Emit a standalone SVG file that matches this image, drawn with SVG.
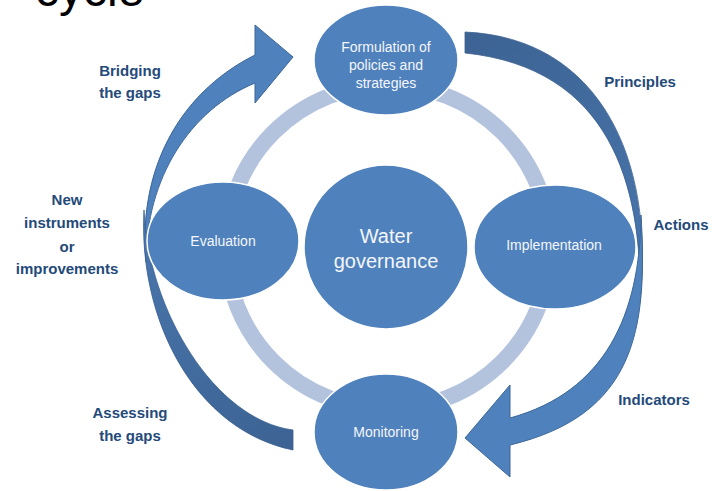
<svg xmlns="http://www.w3.org/2000/svg" width="712" height="491" viewBox="0 0 712 491">
  <defs>
    <linearGradient id="gradPrinciples" gradientUnits="userSpaceOnUse" x1="465" y1="40" x2="640" y2="300">
      <stop offset="0" stop-color="#3C6393"/>
      <stop offset="1" stop-color="#4A77AE"/>
    </linearGradient>
    <linearGradient id="gradAssessing" gradientUnits="userSpaceOnUse" x1="144" y1="210" x2="293" y2="440">
      <stop offset="0" stop-color="#4A77AE"/>
      <stop offset="1" stop-color="#3C6393"/>
    </linearGradient>
    <style>
      .ring { fill: none; stroke: #B3C3DE; stroke-width: 16; }
      .node { fill: #4F81BD; stroke: #FFFFFF; stroke-width: 1.5; }
      .node-text { font-family: "Liberation Sans", Arial, sans-serif; font-size: 14px; fill: #F4F6FA; text-anchor: middle; }
      .hub-text { font-family: "Liberation Sans", Arial, sans-serif; font-size: 20px; fill: #F4F6FA; text-anchor: middle; }
      .arrow-light { fill: #4F81BD; stroke: #3B6799; stroke-width: 1; stroke-linejoin: miter; }
      .label { font-family: "Liberation Sans", Arial, sans-serif; font-size: 15px; font-weight: bold; fill: #244A7A; text-anchor: middle; }
      .title { font-family: "Liberation Sans", Arial, sans-serif; font-size: 48px; fill: #000000; }
    </style>
  </defs>

  <rect width="712" height="491" fill="#FFFFFF"/>

  <!-- heading, mostly above the visible area -->
  <text class="title" x="35" y="6">cycle</text>

  <!-- connectors: inner ring and the four outer arcs -->
  <g id="connectors">
    <circle class="ring" cx="388" cy="247" r="162"/>

    <!-- Bridging the gaps: arrow sweeping up to the top node -->
    <path id="arc-bridging" class="arrow-light"
          d="M146,262 C138,175 175,95 255,55 L255,25 L293,57 L255,103 L255,83 C190,110 146,178 146,262 Z"/>

    <!-- Principles: tapering band from the top node down the right side -->
    <path id="arc-principles" fill="url(#gradPrinciples)" stroke="#3A6090" stroke-width="0.8"
          d="M465,32 C600,38 655,160 640,300 C642,185 610,68 465,53 Z"/>

    <!-- Indicators: arrow sweeping down to the bottom node -->
    <path id="arc-indicators" class="arrow-light"
          d="M641,215 C648,330 635,415 510,445 L510,477 L465,438 L510,385 L510,418 C605,392 640,315 641,215 Z"/>

    <!-- Assessing the gaps: tapering band from the left side to the bottom -->
    <path id="arc-assessing" fill="url(#gradAssessing)" stroke="#3A6090" stroke-width="0.8"
          d="M144,210 C138,320 195,430 293,450 L293,430 C215,420 148,310 144,210 Z"/>
  </g>

  <g id="node-formulation">
    <ellipse class="node" cx="386" cy="60" rx="72" ry="55"/>
    <text class="node-text" x="386" y="52">Formulation of</text>
    <text class="node-text" x="386" y="70">policies and</text>
    <text class="node-text" x="386" y="88">strategies</text>
  </g>

  <g id="node-evaluation">
    <ellipse class="node" cx="223" cy="241" rx="76" ry="59"/>
    <text class="node-text" x="223" y="246">Evaluation</text>
  </g>

  <g id="node-water-governance">
    <circle class="node" cx="386" cy="247" r="82"/>
    <text class="hub-text" x="386" y="243">Water</text>
    <text class="hub-text" x="386" y="268">governance</text>
  </g>

  <g id="node-implementation">
    <ellipse class="node" cx="555" cy="247" rx="81" ry="62"/>
    <text class="node-text" x="554" y="250">Implementation</text>
  </g>

  <g id="node-monitoring">
    <ellipse class="node" cx="386" cy="432" rx="72" ry="58"/>
    <text class="node-text" x="386" y="437">Monitoring</text>
  </g>

  <g id="labels">
    <text class="label" x="130" y="76">Bridging</text>
    <text class="label" x="130" y="98">the gaps</text>
    <text class="label" x="640" y="87">Principles</text>
    <text class="label" x="681" y="230">Actions</text>
    <text class="label" x="654" y="405">Indicators</text>
    <text class="label" x="67" y="205">New</text>
    <text class="label" x="67" y="228">instruments</text>
    <text class="label" x="67" y="252">or</text>
    <text class="label" x="67" y="274">improvements</text>
    <text class="label" x="130" y="418">Assessing</text>
    <text class="label" x="130" y="441">the gaps</text>
  </g>
</svg>
